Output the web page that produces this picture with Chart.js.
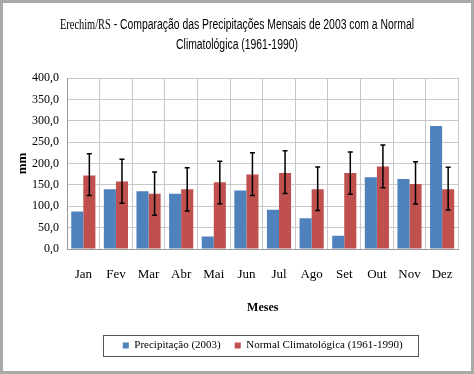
<!DOCTYPE html>
<html>
<head>
<meta charset="utf-8">
<script src="https://cdn.jsdelivr.net/npm/chart.js@4/dist/chart.umd.min.js"></script>
<style>
  html, body { margin: 0; padding: 0; background: #fff; }
  #frame { width: 468px; height: 368px; border: 3px solid #a9a9a9; background: #fff; }
</style>
</head>
<body>
<div id="frame"><canvas id="chart" width="468" height="368"></canvas></div>
<script>
// dados
var meses = ["Jan", "Fev", "Mar", "Abr", "Mai", "Jun", "Jul", "Ago", "Set", "Out", "Nov", "Dez"];
var precip2003 = [88, 140, 135, 129, 29, 137, 92, 72, 31, 168, 164, 288];
var normal = [172, 158, 129, 140, 156, 174, 178, 140, 178, 193, 152, 140];
var normalMax = [223, 210, 180, 190, 205, 225, 230, 192, 227, 243, 204, 191];
var normalMin = [125, 107, 79, 89, 106, 125, 130, 90, 128, 143, 105, 91];
var yTicks = [0, 50, 100, 150, 200, 250, 300, 350, 400];
var tituloA = "Erechim/RS";
var tituloB = " - Comparação das Precipitações Mensais de 2003 com a Normal";
var tituloC = "Climatológica (1961-1990)";

var serif = "'Liberation Serif', 'Times New Roman', serif";
var sans = "'Liberation Sans', Arial, sans-serif";

// titulo em duas fontes, estreitado como no Calibri
var titlePlugin = {
  id: "titleDraw",
  afterDraw: function (chart) {
    var ctx = chart.ctx;
    var fA = "14px " + serif;
    var fB = "14px " + sans;
    ctx.save();
    ctx.font = fA;
    var wA = ctx.measureText(tituloA).width;
    ctx.font = fB;
    var wB = ctx.measureText(tituloB).width;
    var wC = ctx.measureText(tituloC).width;
    var s = 354 / (wA + wB);
    var cx = chart.width / 2;
    ctx.fillStyle = "#000";
    ctx.textBaseline = "middle";
    ctx.textAlign = "left";
    ctx.translate(cx, 0);
    ctx.scale(s, 1);
    var x0 = -(wA + wB) / 2;
    ctx.font = fA;
    ctx.fillText(tituloA, x0, 22);
    ctx.font = fB;
    ctx.fillText(tituloB, x0 + wA, 22);
    ctx.fillText(tituloC, -wC / 2, 42);
    ctx.restore();
  }
};

// barras de erro da normal
var errorBars = {
  id: "errorBars",
  afterDatasetsDraw: function (chart) {
    var ctx = chart.ctx;
    var y = chart.scales.y;
    var meta = chart.getDatasetMeta(1);
    ctx.save();
    ctx.strokeStyle = "#000";
    ctx.lineWidth = 1.5;
    meta.data.forEach(function (bar, i) {
      var top = y.getPixelForValue(normalMax[i]);
      var bot = y.getPixelForValue(normalMin[i]);
      ctx.beginPath();
      ctx.moveTo(bar.x, top);
      ctx.lineTo(bar.x, bot);
      ctx.moveTo(bar.x - 2.5, top);
      ctx.lineTo(bar.x + 2.5, top);
      ctx.moveTo(bar.x - 2.5, bot);
      ctx.lineTo(bar.x + 2.5, bot);
      ctx.stroke();
    });
    ctx.restore();
  }
};

// moldura da legenda
var legendBox = {
  id: "legendBox",
  afterDraw: function (chart) {
    var boxes = chart.legend.legendHitBoxes;
    if (!boxes || !boxes.length) return;
    var l = boxes[0].left, r = 0, t = boxes[0].top, b = 0;
    boxes.forEach(function (h) {
      l = Math.min(l, h.left);
      r = Math.max(r, h.left + h.width);
      t = Math.min(t, h.top);
      b = Math.max(b, h.top + h.height);
    });
    var ctx = chart.ctx;
    ctx.save();
    ctx.strokeStyle = "#555";
    ctx.lineWidth = 1;
    ctx.strokeRect(Math.round(l - 20) + 0.5, Math.round(t - 5) + 0.5, Math.round(r - l + 35), Math.round(b - t + 10));
    ctx.restore();
  }
};

var ctx = document.getElementById("chart").getContext("2d");
var myChart = new Chart(ctx, {
  type: "bar",
  data: {
    labels: meses,
    datasets: [
      {
        label: "Precipitação (2003)",
        data: precip2003,
        backgroundColor: "#4F81BD",
        categoryPercentage: 0.74,
        barPercentage: 1.0
      },
      {
        label: "Normal Climatológica (1961-1990)",
        data: normal,
        backgroundColor: "#C0504D",
        categoryPercentage: 0.74,
        barPercentage: 1.0
      }
    ]
  },
  options: {
    responsive: false,
    animation: false,
    layout: { padding: { left: 8, right: 10, top: 75, bottom: 10 } },
    plugins: {
      title: { display: false },
      legend: {
        position: "bottom",
        fullSize: false,
        labels: {
          color: "#000",
          font: { family: serif, size: 11 },
          boxWidth: 6,
          boxHeight: 6,
          padding: 14
        }
      },
      tooltip: { enabled: false }
    },
    scales: {
      x: {
        grid: { color: "#c8c8c8", offset: true, drawTicks: false },
        border: { color: "#9a9a9a" },
        ticks: { color: "#000", font: { family: serif, size: 13 }, padding: 18, maxRotation: 0 },
        title: { display: true, text: "Meses", color: "#000", font: { family: serif, size: 12, weight: "bold" }, padding: { top: 0, bottom: 11 } },
        afterFit: function (scale) { scale.height = 77; }
      },
      y: {
        min: 0,
        max: 400,
        afterBuildTicks: function (scale) {
          scale.ticks = yTicks.map(function (v) { return { value: v }; });
        },
        grid: { color: "#c8c8c8", drawTicks: false },
        border: { color: "#9a9a9a" },
        ticks: {
          color: "#000",
          font: { family: serif, size: 12 },
          padding: 8,
          callback: function (v) { return v.toFixed(1).replace(".", ","); }
        },
        title: { display: true, text: "mm", color: "#000", font: { family: serif, size: 13, weight: "bold" } },
        afterFit: function (scale) { scale.width = 56; }
      }
    }
  },
  plugins: [titlePlugin, errorBars, legendBox]
});
</script>
</body>
</html>
